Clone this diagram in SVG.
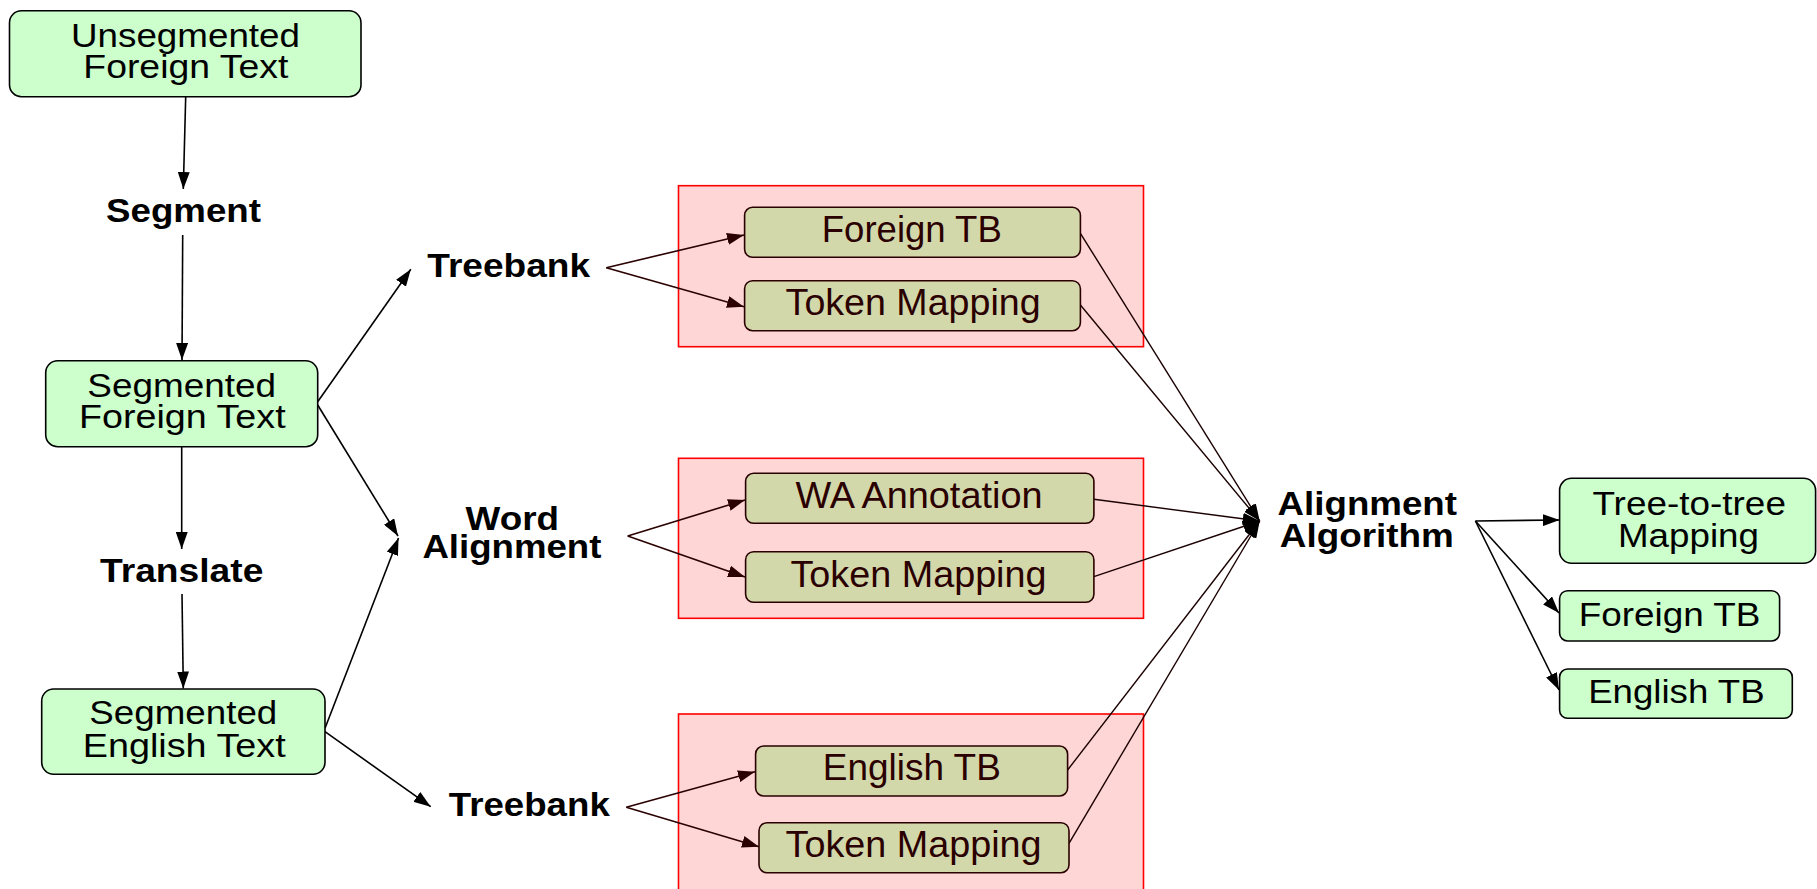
<svg xmlns="http://www.w3.org/2000/svg" width="1817" height="889" viewBox="0 0 1817 889">
<defs>
<style>
.g{fill:#ccffcc;stroke:#000;stroke-width:1.6}
.t{fill:#d3d8aa;stroke:#2a0000;stroke-width:1.6}
.p{fill:#ffd6d6;stroke:#ff0000;stroke-width:1.6}
.n{font-family:"Liberation Sans",Arial,sans-serif;fill:#000;text-anchor:middle}
.nt{font-family:"Liberation Sans",Arial,sans-serif;fill:#2a0000;text-anchor:middle;font-size:36px}
.b{font-family:"Liberation Sans",Arial,sans-serif;font-weight:bold;fill:#000;text-anchor:middle;font-size:34px}
.e{stroke:#000;stroke-width:1.6;fill:none;marker-end:url(#ah)}
.ed{stroke:#2a0000;stroke-width:1.6;fill:none;marker-end:url(#ahd)}
.l{stroke:#1a0000;stroke-width:1.4;fill:none;marker-end:url(#ah)}
</style>
<marker id="ah" viewBox="0 0 17 12" refX="17" refY="6" markerWidth="17" markerHeight="12" markerUnits="userSpaceOnUse" orient="auto"><path d="M0,0 L17,6 L0,12 z" fill="#000"/></marker>
<marker id="ahd" viewBox="0 0 17 12" refX="17" refY="6" markerWidth="17" markerHeight="12" markerUnits="userSpaceOnUse" orient="auto"><path d="M0,0 L17,6 L0,12 z" fill="#2a0000"/></marker>
</defs>

<g id="cluster1"><rect class="p" x="678.5" y="185.7" width="465" height="161"/></g>
<g id="cluster2"><rect class="p" x="678.5" y="458.3" width="465" height="160"/></g>
<g id="cluster3"><rect class="p" x="678.5" y="714" width="465" height="200"/></g>

<g id="connectors">
<path class="e" d="M185.7,96.7 L183.3,189"/>
<path class="e" d="M182.7,235 L182,360"/>
<path class="e" d="M181.7,446.7 L181.7,549"/>
<path class="e" d="M182,594 L183.3,688.5"/>
<path class="e" d="M317.7,401.7 L410.8,269.3"/>
<path class="e" d="M317.7,405 L398,536"/>
<path class="e" d="M325,728.3 L398.5,538"/>
<path class="e" d="M325,731.7 L430.7,806.7"/>
<path class="ed" d="M606.3,267.7 L744,235"/>
<path class="ed" d="M606.3,267.7 L744,306.7"/>
<path class="ed" d="M627.7,536 L745,500"/>
<path class="ed" d="M627.7,536 L745,577"/>
<path class="ed" d="M626.3,807.3 L755,771.7"/>
<path class="ed" d="M626.3,807.3 L759,846.7"/>
<path class="l" d="M1080.4,233.3 L1259.7,521"/>
<path class="l" d="M1080.4,305 L1259.7,521"/>
<path class="l" d="M1093.9,499.3 L1259.7,521"/>
<path class="l" d="M1093.9,576.7 L1259.7,521"/>
<path class="l" d="M1067.6,770 L1259.7,521"/>
<path class="l" d="M1069,843.3 L1259.7,521"/>
<path class="e" d="M1475.4,521 L1559.6,520"/>
<path class="e" d="M1475.4,521 L1559,613"/>
<path class="e" d="M1475.4,521 L1559,690"/>
</g>

<g id="unsegmented">
<rect class="g" x="9.5" y="10.7" width="351.5" height="86" rx="12"/>
<text class="n" font-size="33" x="185.5" y="47" textLength="229" lengthAdjust="spacingAndGlyphs">Unsegmented</text>
<text class="n" font-size="33" x="185.8" y="78.3" textLength="205" lengthAdjust="spacingAndGlyphs">Foreign Text</text>
</g>
<g id="segment"><text class="b" x="183.5" y="222" textLength="155" lengthAdjust="spacingAndGlyphs">Segment</text></g>
<g id="segmented-foreign">
<rect class="g" x="45.7" y="360.7" width="272" height="86" rx="12"/>
<text class="n" font-size="33" x="181.7" y="396.7" textLength="188.7" lengthAdjust="spacingAndGlyphs">Segmented</text>
<text class="n" font-size="33" x="182.3" y="428.3" textLength="206.7" lengthAdjust="spacingAndGlyphs">Foreign Text</text>
</g>
<g id="translate"><text class="b" x="181.7" y="581.7" textLength="163.3" lengthAdjust="spacingAndGlyphs">Translate</text></g>
<g id="segmented-english">
<rect class="g" x="41.7" y="689" width="283.3" height="85.3" rx="12"/>
<text class="n" font-size="33" x="183.3" y="724" textLength="188" lengthAdjust="spacingAndGlyphs">Segmented</text>
<text class="n" font-size="33" x="184.2" y="756.7" textLength="203" lengthAdjust="spacingAndGlyphs">English Text</text>
</g>

<g id="treebank-foreign"><text class="b" x="508.7" y="277.3" textLength="162.7" lengthAdjust="spacingAndGlyphs">Treebank</text></g>
<g id="word-alignment">
<text class="b" x="512.3" y="530" textLength="93.4" lengthAdjust="spacingAndGlyphs">Word</text>
<text class="b" x="511.9" y="558.3" textLength="179" lengthAdjust="spacingAndGlyphs">Alignment</text>
</g>
<g id="treebank-english"><text class="b" x="529.3" y="816" textLength="161" lengthAdjust="spacingAndGlyphs">Treebank</text></g>

<g id="foreign-tb">
<rect class="t" x="744.6" y="207.3" width="335.8" height="50" rx="8"/>
<text class="nt" x="911.8" y="241.7" textLength="180" lengthAdjust="spacingAndGlyphs">Foreign TB</text>
</g>
<g id="token-mapping-1">
<rect class="t" x="744.6" y="280.7" width="335.8" height="50" rx="8"/>
<text class="nt" x="913.1" y="315" textLength="255" lengthAdjust="spacingAndGlyphs">Token Mapping</text>
</g>
<g id="wa-annotation">
<rect class="t" x="745.6" y="473.3" width="348.3" height="50" rx="8"/>
<text class="nt" x="919" y="508.3" textLength="247" lengthAdjust="spacingAndGlyphs">WA Annotation</text>
</g>
<g id="token-mapping-2">
<rect class="t" x="745.6" y="551.7" width="348.3" height="50.6" rx="8"/>
<text class="nt" x="918.5" y="586.7" textLength="256" lengthAdjust="spacingAndGlyphs">Token Mapping</text>
</g>
<g id="english-tb">
<rect class="t" x="755.6" y="746" width="312" height="50" rx="8"/>
<text class="nt" x="911.8" y="780" textLength="178" lengthAdjust="spacingAndGlyphs">English TB</text>
</g>
<g id="token-mapping-3">
<rect class="t" x="759" y="822.7" width="310" height="50" rx="8"/>
<text class="nt" x="913.6" y="856.7" textLength="256" lengthAdjust="spacingAndGlyphs">Token Mapping</text>
</g>

<g id="alignment-algorithm">
<text class="b" x="1367.3" y="515" textLength="179.4" lengthAdjust="spacingAndGlyphs">Alignment</text>
<text class="b" x="1366.8" y="546.7" textLength="174" lengthAdjust="spacingAndGlyphs">Algorithm</text>
</g>

<g id="tree-to-tree">
<rect class="g" x="1559.6" y="478.3" width="256" height="85" rx="12"/>
<text class="n" font-size="33" x="1689.2" y="515" textLength="193.5" lengthAdjust="spacingAndGlyphs">Tree-to-tree</text>
<text class="n" font-size="33" x="1688.5" y="546.7" textLength="141" lengthAdjust="spacingAndGlyphs">Mapping</text>
</g>
<g id="out-foreign-tb">
<rect class="g" x="1559.6" y="590.7" width="220" height="50.3" rx="8"/>
<text class="n" font-size="34" x="1669.6" y="625.7" textLength="181.6" lengthAdjust="spacingAndGlyphs">Foreign TB</text>
</g>
<g id="out-english-tb">
<rect class="g" x="1559.6" y="669" width="232.7" height="49.3" rx="8"/>
<text class="n" font-size="34" x="1676.4" y="703.3" textLength="176.5" lengthAdjust="spacingAndGlyphs">English TB</text>
</g>
</svg>
